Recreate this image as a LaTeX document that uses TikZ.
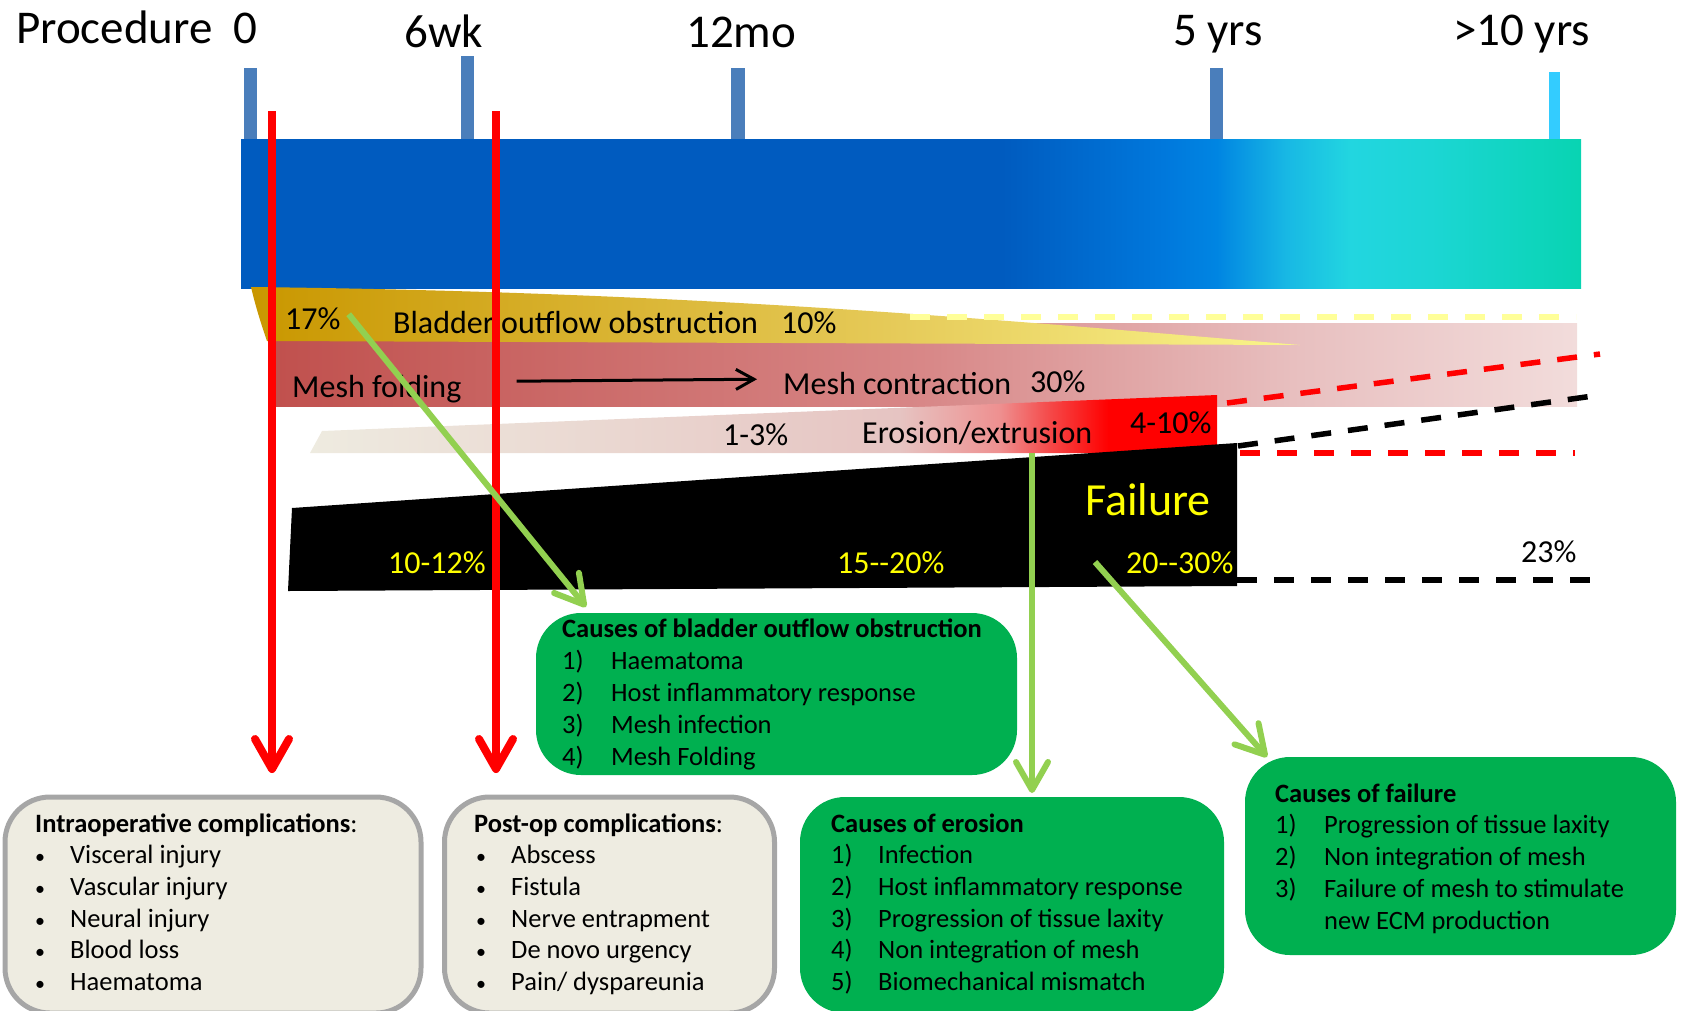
\documentclass[tikz,border=0pt]{standalone}
\usepackage{fontspec}
\setmainfont{Carlito}
\usetikzlibrary{arrows.meta}

\definecolor{tickblue}{HTML}{4A7EBB}
\definecolor{tickcyan}{HTML}{33CCFF}
\definecolor{barA}{HTML}{005BBF}
\definecolor{barB}{HTML}{0078DC}
\definecolor{barC}{HTML}{0085E2}
\definecolor{barD}{HTML}{18B8E4}
\definecolor{barE}{HTML}{22D6E0}
\definecolor{barF}{HTML}{1CD6D4}
\definecolor{barG}{HTML}{08D4B2}
\definecolor{goldA}{HTML}{C99700}
\definecolor{goldB}{HTML}{E6CB5A}
\definecolor{goldC}{HTML}{FAF58C}
\definecolor{pinkA}{HTML}{C0504D}
\definecolor{pinkB}{HTML}{D88888}
\definecolor{pinkC}{HTML}{E8C0C0}
\definecolor{pinkD}{HTML}{F2DCDB}
\definecolor{eroA}{HTML}{EEEBE0}
\definecolor{eroB}{HTML}{E6C4C2}
\definecolor{eroC}{HTML}{EE9090}
\definecolor{eroD}{HTML}{F54848}
\definecolor{eroE}{HTML}{FF0000}
\definecolor{dashyellow}{HTML}{FFFF99}
\definecolor{failyellow}{HTML}{FFFF00}
\definecolor{arrowgreen}{HTML}{92D050}
\definecolor{boxgreen}{HTML}{00B050}
\definecolor{boxbeige}{HTML}{EEECE1}
\definecolor{boxgrey}{HTML}{A6A6A6}

\pgfdeclarehorizontalshading{barshade}{100bp}{color(0bp)=(barA); color(25bp)=(barA); color(53.4bp)=(barA); color(59.4bp)=(barB); color(61.4bp)=(barC); color(64bp)=(barD); color(66.4bp)=(barE); color(69.4bp)=(barF); color(75bp)=(barG); color(100bp)=(barG)}
\pgfdeclarehorizontalshading{goldshade}{100bp}{color(0bp)=(goldA); color(25bp)=(goldA); color(56bp)=(goldB); color(75bp)=(goldC); color(100bp)=(goldC)}
\pgfdeclarehorizontalshading{pinkshade}{100bp}{color(0bp)=(pinkA); color(25bp)=(pinkA); color(50.3bp)=(pinkB); color(64.4bp)=(pinkC); color(75bp)=(pinkD); color(100bp)=(pinkD)}
\pgfdeclarehorizontalshading{eroshade}{100bp}{color(0bp)=(eroA); color(25bp)=(eroA); color(57.5bp)=(eroB); color(63bp)=(eroC); color(65.8bp)=(eroD); color(69bp)=(eroE); color(100bp)=(eroE)}

\begin{document}
\begin{tikzpicture}[x=1pt,y=-1pt,
    toplbl/.style={anchor=base west,inner sep=0pt,font=\fontsize{47}{56}\selectfont},
    bandlbl/.style={anchor=base west,inner sep=0pt,font=\fontsize{32}{38}\selectfont},
    pctlbl/.style={bandlbl,text=failyellow},
    boxtxt/.style={anchor=base west,inner sep=0pt,font=\fontsize{26.5}{31}\selectfont},
    bulletmk/.style={anchor=base west,inner sep=0pt,font=\fontsize{20}{24}\selectfont},
    greybox/.style={draw=boxgrey,line width=5pt,fill=boxbeige,rounded corners=45pt,inner sep=0pt},
    greenbox/.style={fill=boxgreen,rounded corners=45pt,inner sep=0pt},
    redarrow/.style={draw=red,line width=8pt,-{Straight Barb[length=30pt,width=34pt,round]}},
    greenarrow/.style={draw=arrowgreen,line width=6pt,-{Straight Barb[length=28pt,width=32pt,round]}},
    dashline/.style={line width=5.5pt,dash pattern=on 20pt off 17pt}]
    \useasboundingbox (0,0) rectangle (1683,1010);

    % time axis
    \shade[shading=barshade] (241,139) rectangle (1581,288);
    \foreach \x/\t/\w/\c in {244/68/13/tickblue,461/56/13/tickblue,731/68/14/tickblue,1210/68/13/tickblue,1549/72/11/tickcyan}
        \fill[\c] (\x,\t) rectangle ({\x+\w},139);
    \node[toplbl] (proc) at (16,43) {Procedure};
    \node[toplbl] (t0) at (233,43) {0};
    \node[toplbl] (t6wk) at (404,47) {6wk};
    \node[toplbl] (t12mo) at (686,47) {12mo};
    \node[toplbl] (t5yr) at (1173,45) {5 yrs};
    \node[toplbl] (t10yr) at (1453,45) {>10 yrs};

    % bands
    \shade[shading=pinkshade] (268,323) rectangle (1577,406);
    \shade[shading=goldshade] (251,287) .. controls (700,292) and (1000,320) .. (1300,345)
        -- (267,341) .. controls (259,318) and (254,300) .. (251,287);
    \draw[dashline,dashyellow] (910,317) -- (1576,317);
    \shade[shading=eroshade] (310,453) -- (322,431) -- (1217,395) -- (1217,453) -- cycle;
    \fill[black] (292,508) -- (1237,443) -- (1237,586) -- (288,591) -- cycle;

    \draw[dashline,red] (1227,403) -- (1600,354);
    \draw[dashline,black] (1238,446) -- (1600,395);
    \draw[dashline,red] (1240,453) -- (1575,453);
    \draw[dashline,black] (1237,580) -- (1595,580);

    \node[bandlbl] (p17) at (285,329) {17\%};
    \node[bandlbl] (bladder) at (393,333) {Bladder outflow obstruction};
    \node[bandlbl] (p10) at (781,333) {10\%};
    \node[bandlbl] (mfold) at (292,397) {Mesh folding};
    \node[bandlbl] (mcont) at (783,394) {Mesh contraction};
    \node[bandlbl] (p30) at (1030,392) {30\%};
    \node[bandlbl] (p13) at (723,445) {1-3\%};
    \node[bandlbl] (erosion) at (862,443) {Erosion/extrusion};
    \node[bandlbl] (p410) at (1130,433) {4-10\%};
    \node[pctlbl] (p1012) at (388,573) {10-12\%};
    \node[pctlbl] (p1520) at (837,573) {15-{}-20\%};
    \node[pctlbl] (p2030) at (1126,573) {20-{}-30\%};
    \node[anchor=base west,inner sep=0pt,font=\fontsize{46}{55}\selectfont,text=failyellow] (failure) at (1085,515) {Failure};
    \node[bandlbl] (p23) at (1521,562) {23\%};

    \draw[line width=3pt,-{Straight Barb[length=18pt,width=20pt]},shorten <=55pt,shorten >=26pt]
        ([yshift=7pt]mfold.east) -- ([yshift=4pt]mcont.west);

    % boxes
    \node[greybox,minimum width=416pt,minimum height=216pt] (intra) at (213,905) {};
    \node[greybox,minimum width=330pt,minimum height=216pt] (postop) at (609.5,905) {};
    \node[greenbox,minimum width=481pt,minimum height=162pt] (causebl) at (776.5,694) {};
    \node[greenbox,minimum width=424pt,minimum height=216pt] (causeer) at (1012,905) {};
    \node[greenbox,minimum width=431pt,minimum height=198pt] (causefa) at (1460.5,856) {};

    \node[boxtxt] (intraT) at (35,832) {\textbf{Intraoperative complications}:};
    \foreach \t [count=\i] in {Visceral injury,Vascular injury,Neural injury,Blood loss,Haematoma}{
        \node[bulletmk] (intrab\i) at (35,{832+31.7*\i}) {•};
        \node[boxtxt] (intra\i) at (70,{832+31.7*\i}) {\t};
    }
    \node[boxtxt] (postT) at (474,832) {\textbf{Post-op complications}:};
    \foreach \t [count=\i] in {Abscess,Fistula,Nerve entrapment,De novo urgency,Pain/ dyspareunia}{
        \node[bulletmk] (postb\i) at (476,{832+31.7*\i}) {•};
        \node[boxtxt] (post\i) at (511,{832+31.7*\i}) {\t};
    }
    \node[boxtxt] (blT) at (562,637) {\textbf{Causes of bladder outflow obstruction}};
    \foreach \t [count=\i] in {Haematoma,Host inflammatory response,Mesh infection,Mesh Folding}{
        \node[boxtxt] (bln\i) at (562,{637+32*\i}) {\i)};
        \node[boxtxt] (bl\i) at (611,{637+32*\i}) {\t};
    }
    \node[boxtxt] (erT) at (831,832) {\textbf{Causes of erosion}};
    \foreach \t [count=\i] in {Infection,Host inflammatory response,Progression of tissue laxity,Non integration of mesh,Biomechanical mismatch}{
        \node[boxtxt] (ern\i) at (831,{832+31.7*\i}) {\i)};
        \node[boxtxt] (er\i) at (878,{832+31.7*\i}) {\t};
    }
    \node[boxtxt] (faT) at (1275,802) {\textbf{Causes of failure}};
    \foreach \t [count=\i] in {Progression of tissue laxity,Non integration of mesh,Failure of mesh to stimulate}{
        \node[boxtxt] (fan\i) at (1275,{802+31.7*\i}) {\i)};
        \node[boxtxt] (fa\i) at (1324,{802+31.7*\i}) {\t};
    }
    \node[boxtxt] (fa4) at (1324,929) {new ECM production};

    % arrows
    \coordinate (intraIn) at (272,773);
    \coordinate (postIn) at (496,773);
    \coordinate (blIn) at (586,607);
    \coordinate (erOut) at (1032,453);
    \coordinate (erIn) at (1032,793);
    \coordinate (faOut) at (1095,562);
    \coordinate (faIn) at (1267,757);
    \draw[redarrow] (272,111) coordinate (intraOut) -- (intraIn);
    \draw[redarrow] (496,111) coordinate (postOut) -- (postIn);
    \draw[greenarrow] (p17.east) ++(8,-4) coordinate (blOut) -- (blIn);
    \draw[greenarrow] (erOut) -- (erIn);
    \draw[greenarrow] (faOut) -- (faIn);
\end{tikzpicture}
\end{document}
